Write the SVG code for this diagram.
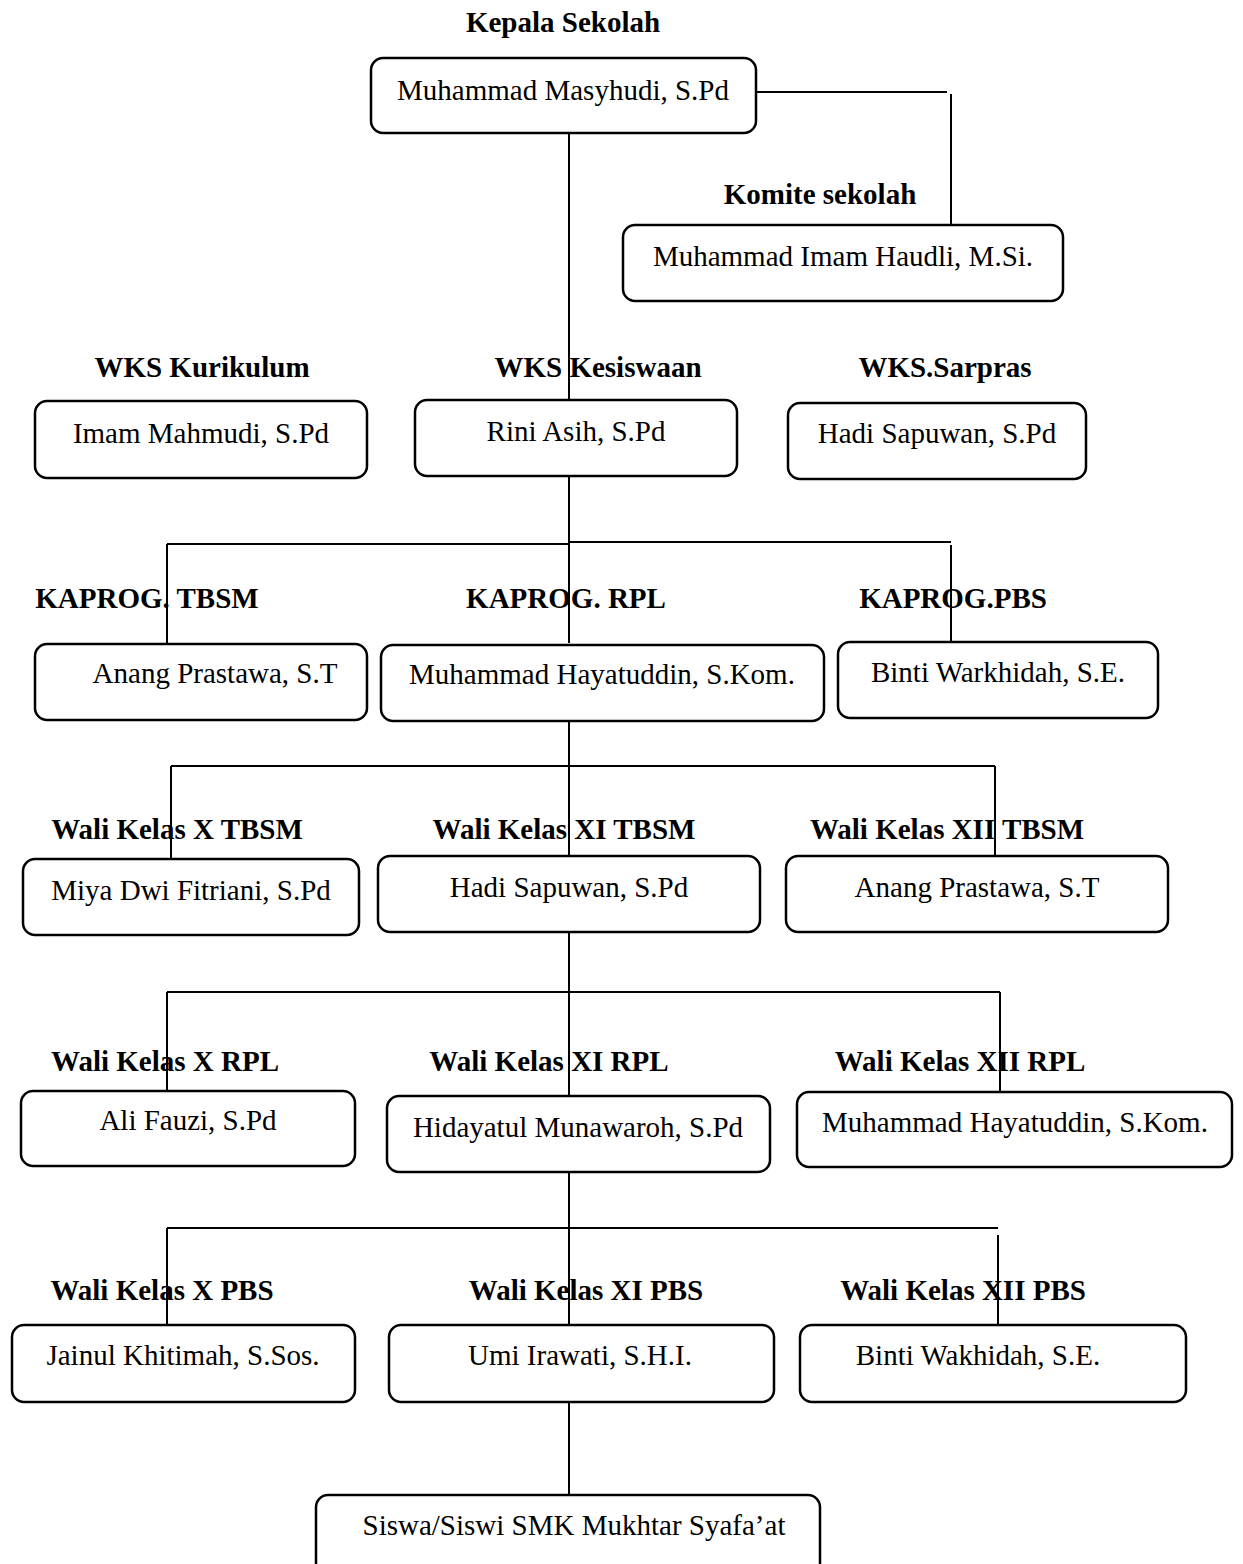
<svg xmlns="http://www.w3.org/2000/svg" width="1243" height="1564" viewBox="0 0 1243 1564">
<style>
.box{fill:#fff;stroke:#000;stroke-width:2.5}
.t{font-family:"Liberation Serif","Times New Roman",serif;font-size:29px;fill:#000;text-anchor:middle}
.h{font-family:"Liberation Serif","Times New Roman",serif;font-size:29px;font-weight:bold;fill:#000;text-anchor:middle}
.ln{fill:none;stroke:#000;stroke-width:2}
</style>
<rect x="0" y="0" width="1243" height="1564" fill="#fff"/>
<g id="connectors">
<path class="ln" d="M756 92 H947"/>
<path class="ln" d="M951 94 V225"/>
<path class="ln" d="M569 133 V400"/>
<path class="ln" d="M569 476 V643"/>
<path class="ln" d="M167 544 H569"/>
<path class="ln" d="M569 542 H951"/>
<path class="ln" d="M167 544 V643"/>
<path class="ln" d="M951 545 V643"/>
<path class="ln" d="M569 721 V858"/>
<path class="ln" d="M171 766 H995"/>
<path class="ln" d="M171 766 V865"/>
<path class="ln" d="M995 766 V865"/>
<path class="ln" d="M569 932 V1098"/>
<path class="ln" d="M167 992 H1000"/>
<path class="ln" d="M167 992 V1091"/>
<path class="ln" d="M1000 992 V1092"/>
<path class="ln" d="M569 1172 V1325"/>
<path class="ln" d="M167 1228 H998"/>
<path class="ln" d="M167 1228 V1325"/>
<path class="ln" d="M998 1235 V1332"/>
<path class="ln" d="M569 1402 V1495"/>
</g>
<g id="kepala">
<text class="h" x="563" y="32">Kepala Sekolah</text>
<rect class="box" x="371" y="58" width="385" height="75" rx="12"/>
<text class="t" x="563" y="100">Muhammad Masyhudi, S.Pd</text>
</g>
<g id="komite">
<text class="h" x="820" y="204">Komite sekolah</text>
<rect class="box" x="623" y="225" width="440" height="76" rx="12"/>
<text class="t" x="843" y="266">Muhammad Imam Haudli, M.Si.</text>
</g>
<g id="wks-kurikulum">
<text class="h" x="202" y="377">WKS Kurikulum</text>
<rect class="box" x="35" y="401" width="332" height="77" rx="12"/>
<text class="t" x="201" y="443">Imam Mahmudi, S.Pd</text>
</g>
<g id="wks-kesiswaan">
<text class="h" x="598" y="377">WKS Kesiswaan</text>
<rect class="box" x="415" y="400" width="322" height="76" rx="12"/>
<text class="t" x="576" y="441">Rini Asih, S.Pd</text>
</g>
<g id="wks-sarpras">
<text class="h" x="945" y="377">WKS.Sarpras</text>
<rect class="box" x="788" y="403" width="298" height="76" rx="12"/>
<text class="t" x="937" y="443">Hadi Sapuwan, S.Pd</text>
</g>
<g id="kaprog-tbsm">
<text class="h" x="147" y="608">KAPROG. TBSM</text>
<rect class="box" x="35" y="644" width="332" height="76" rx="12"/>
<text class="t" x="215" y="683">Anang Prastawa, S.T</text>
</g>
<g id="kaprog-rpl">
<text class="h" x="566" y="608">KAPROG. RPL</text>
<rect class="box" x="381" y="645" width="443" height="76" rx="12"/>
<text class="t" x="602" y="684">Muhammad Hayatuddin, S.Kom.</text>
</g>
<g id="kaprog-pbs">
<text class="h" x="953" y="608">KAPROG.PBS</text>
<rect class="box" x="838" y="642" width="320" height="76" rx="12"/>
<text class="t" x="998" y="682">Binti Warkhidah, S.E.</text>
</g>
<g id="wali-x-tbsm">
<text class="h" x="177" y="839">Wali Kelas X TBSM</text>
<rect class="box" x="23" y="859" width="336" height="76" rx="12"/>
<text class="t" x="191" y="900">Miya Dwi Fitriani, S.Pd</text>
</g>
<g id="wali-xi-tbsm">
<text class="h" x="564" y="839">Wali Kelas XI TBSM</text>
<rect class="box" x="378" y="856" width="382" height="76" rx="12"/>
<text class="t" x="569" y="897">Hadi Sapuwan, S.Pd</text>
</g>
<g id="wali-xii-tbsm">
<text class="h" x="947" y="839">Wali Kelas XII TBSM</text>
<rect class="box" x="786" y="856" width="382" height="76" rx="12"/>
<text class="t" x="977" y="897">Anang Prastawa, S.T</text>
</g>
<g id="wali-x-rpl">
<text class="h" x="165" y="1071">Wali Kelas X RPL</text>
<rect class="box" x="21" y="1091" width="334" height="75" rx="12"/>
<text class="t" x="188" y="1130">Ali Fauzi, S.Pd</text>
</g>
<g id="wali-xi-rpl">
<text class="h" x="549" y="1071">Wali Kelas XI RPL</text>
<rect class="box" x="387" y="1096" width="383" height="76" rx="12"/>
<text class="t" x="578" y="1137">Hidayatul Munawaroh, S.Pd</text>
</g>
<g id="wali-xii-rpl">
<text class="h" x="960" y="1071">Wali Kelas XII RPL</text>
<rect class="box" x="797" y="1092" width="435" height="75" rx="12"/>
<text class="t" x="1015" y="1132">Muhammad Hayatuddin, S.Kom.</text>
</g>
<g id="wali-x-pbs">
<text class="h" x="162" y="1300">Wali Kelas X PBS</text>
<rect class="box" x="12" y="1325" width="343" height="77" rx="12"/>
<text class="t" x="183" y="1365">Jainul Khitimah, S.Sos.</text>
</g>
<g id="wali-xi-pbs">
<text class="h" x="586" y="1300">Wali Kelas XI PBS</text>
<rect class="box" x="389" y="1325" width="385" height="77" rx="12"/>
<text class="t" x="580" y="1365">Umi Irawati, S.H.I.</text>
</g>
<g id="wali-xii-pbs">
<text class="h" x="963" y="1300">Wali Kelas XII PBS</text>
<rect class="box" x="800" y="1325" width="386" height="77" rx="12"/>
<text class="t" x="978" y="1365">Binti Wakhidah, S.E.</text>
</g>
<g id="siswa">
<rect class="box" x="316" y="1495" width="504" height="90" rx="12"/>
<text class="t" x="574" y="1535">Siswa/Siswi SMK Mukhtar Syafa’at</text>
</g>
</svg>
